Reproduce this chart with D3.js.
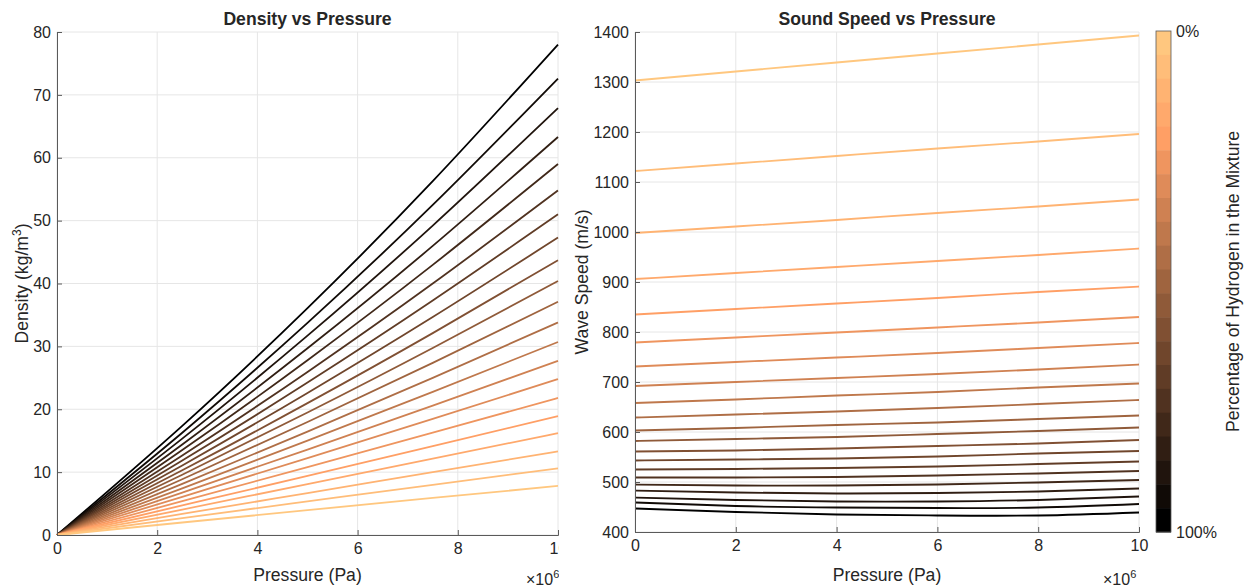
<!DOCTYPE html>
<html>
<head>
<meta charset="utf-8">
<script src="https://cdn.jsdelivr.net/npm/d3@7"></script>
<style>
  body { margin: 0; background: #fff; }
  text { font-family: "Liberation Sans", Arial, Helvetica, sans-serif; fill: #262626; }
</style>
</head>
<body>
<script>
////// DATA
// hydrogen share of each curve, same order as the curves below (light -> black)
var hydrogenPct = [0, 5, 10, 15, 20, 25, 30, 35, 40, 45, 50, 55, 60, 65, 70, 75, 80, 85, 90, 95, 100];

// left panel: pressure (x1e6 Pa) and density (kg/m3) of each curve
var pressureDensity = [0, 2.5, 5, 7.5, 10];
var densityLines = [
    [0, 1.99, 3.95, 5.89, 7.8],
    [0, 2.69, 5.34, 7.98, 10.6],
    [0, 3.35, 6.67, 9.99, 13.3],
    [0, 4.05, 8.09, 12.14, 16.2],
    [0, 4.70, 9.40, 14.14, 18.9],
    [0, 5.38, 10.79, 16.27, 21.8],
    [0, 6.08, 12.23, 18.47, 24.8],
    [0, 6.75, 13.59, 20.58, 27.7],
    [0, 7.43, 15.00, 22.76, 30.7],
    [0, 8.12, 16.44, 25.00, 33.8],
    [0, 8.86, 17.97, 27.38, 37.1],
    [0, 9.58, 19.48, 29.75, 40.4],
    [0, 10.29, 20.97, 32.11, 43.7],
    [0, 11.06, 22.60, 34.67, 47.3],
    [0, 11.84, 24.25, 37.30, 51.0],
    [0, 12.64, 25.94, 39.99, 54.8],
    [0, 13.51, 27.80, 42.96, 59.0],
    [0, 14.39, 29.69, 45.98, 63.3],
    [0, 15.33, 31.70, 49.21, 67.9],
    [0, 16.27, 33.74, 52.50, 72.6],
    [0, 17.36, 36.08, 56.28, 78.0]
];

// right panel: pressure (x1e6 Pa) and wave speed (m/s) of each curve
var pressureSpeed = [0, 2, 4, 6, 8, 10];
var speedLines = [
    [1303, 1321, 1339, 1357, 1375, 1393],
    [1122, 1137, 1152, 1167, 1181, 1196],
    [998, 1011, 1024, 1038, 1051, 1065],
    [906, 918, 930, 942, 954, 967],
    [835, 846, 857, 868, 880, 891],
    [779, 789, 799, 809, 819, 830],
    [731, 740, 749, 758, 768, 778],
    [692, 700, 708, 716, 725, 735],
    [658, 665, 673, 680, 689, 697],
    [629, 635, 641, 648, 656, 664],
    [603, 608, 614, 619, 626, 633],
    [582, 586, 590, 596, 602, 609],
    [561, 563, 567, 572, 577, 584],
    [543, 545, 547, 551, 557, 562],
    [525, 526, 528, 531, 536, 541],
    [509, 509, 510, 513, 517, 522],
    [495, 493, 493, 495, 499, 504],
    [483, 479, 477, 478, 481, 487],
    [469, 464, 461, 461, 464, 471],
    [459, 452, 449, 448, 449, 456],
    [447, 440, 435, 433, 433, 439]
];

var pressureTicks = [0, 2, 4, 6, 8, 10];
var densityTicks = [0, 10, 20, 30, 40, 50, 60, 70, 80];
var speedTicks = [400, 500, 600, 700, 800, 900, 1000, 1100, 1200, 1300, 1400];
var colorbarLabels = ["0%", "100%"];

////// SETUP SVG
var svg = d3.select("body")
    .append("svg")
    .attr("width", 1244)
    .attr("height", 588);

var axisColor = "#5a5a5a";
var tickFont = "16px";
var labelFont = "17.6px";

// matlab "copper" map, 1 = light orange, 0 = black
function copper(v) {
    return d3.rgb(255 * Math.min(1, 1.25 * v), 255 * 0.7812 * v, 255 * 0.4975 * v).toString();
}
function lineColor(pct) {
    return copper(1 - pct / 100);
}

////// DRAW ONE PANEL
function drawPanel(p) {
    var g = svg.append("g");

    var x = d3.scaleLinear().domain([0, 10]).range([p.left, p.right]);
    var y = d3.scaleLinear().domain(p.yDomain).range([p.bottom, p.top]);

    // grid
    g.selectAll(".gx").data(pressureTicks).enter().append("line")
        .attr("x1", d => x(d)).attr("x2", d => x(d))
        .attr("y1", p.top).attr("y2", p.bottom)
        .attr("stroke", "#e6e6e6").attr("stroke-width", 1);
    g.selectAll(".gy").data(p.yTicks).enter().append("line")
        .attr("x1", p.left).attr("x2", p.right)
        .attr("y1", d => y(d)).attr("y2", d => y(d))
        .attr("stroke", "#e6e6e6").attr("stroke-width", 1);

    // curves
    var line = d3.line()
        .x((d, i) => x(p.xs[i]))
        .y(d => y(d))
        .curve(d3.curveNatural);

    var order = d3.range(p.lines.length).reverse();
    g.selectAll(".curve").data(order).enter().append("path")
        .attr("d", i => line(p.lines[i]))
        .attr("fill", "none")
        .attr("stroke", i => lineColor(hydrogenPct[i]))
        .attr("stroke-width", 1.8);

    // axes, ticks pointing inward
    var ax = g.append("g")
        .attr("transform", "translate(0," + p.bottom + ")")
        .call(d3.axisBottom(x).tickValues(pressureTicks).tickFormat(d3.format("d")).tickSize(-5).tickPadding(8));
    var ay = g.append("g")
        .attr("transform", "translate(" + p.left + ",0)")
        .call(d3.axisLeft(y).tickValues(p.yTicks).tickFormat(d3.format("d")).tickSize(-5).tickPadding(6));
    [ax, ay].forEach(function(a) {
        a.select(".domain").attr("stroke", axisColor);
        a.selectAll(".tick line").attr("stroke", axisColor);
        a.selectAll("text")
            .attr("fill", "#262626")
            .style("font-size", tickFont)
            .style("font-family", '"Liberation Sans", Arial, sans-serif');
    });

    // title
    g.append("text")
        .attr("x", (p.left + p.right) / 2).attr("y", 25)
        .attr("text-anchor", "middle")
        .style("font-size", labelFont).style("font-weight", "bold")
        .text(p.title);

    // x label
    g.append("text")
        .attr("x", (p.left + p.right) / 2).attr("y", 581)
        .attr("text-anchor", "middle")
        .style("font-size", labelFont)
        .text("Pressure (Pa)");

    // exponent
    var ex = g.append("text")
        .attr("x", p.right - p.expShift).attr("y", 585)
        .style("font-size", tickFont);
    ex.append("tspan").text("\u00d710");
    ex.append("tspan").attr("dy", -7).style("font-size", "11px").text("6");

    // y label
    var yl = g.append("text")
        .attr("transform", "translate(" + p.yLabelX + "," + ((p.top + p.bottom) / 2) + ") rotate(-90)")
        .attr("text-anchor", "middle")
        .style("font-size", labelFont);
    p.yLabel(yl);

    return {x: x, y: y};
}

////// LEFT PANEL
drawPanel({
    left: 57, right: 558, top: 32, bottom: 535,
    yDomain: [0, 80], yTicks: densityTicks,
    xs: pressureDensity, lines: densityLines,
    title: "Density vs Pressure",
    yLabelX: 28, expShift: 32,
    yLabel: function(t) {
        t.append("tspan").text("Density (kg/m");
        t.append("tspan").attr("dy", -7).style("font-size", "12px").text("3");
        t.append("tspan").attr("dy", 7).text(")");
    }
});

// right subplot sits on top and hides the end of the left tick labels
svg.append("rect")
    .attr("x", 559).attr("y", 0)
    .attr("width", 1244 - 559).attr("height", 588)
    .attr("fill", "#fff");

////// RIGHT PANEL
drawPanel({
    left: 635, right: 1139, top: 32, bottom: 532,
    yDomain: [400, 1400], yTicks: speedTicks,
    xs: pressureSpeed, lines: speedLines,
    title: "Sound Speed vs Pressure",
    yLabelX: 588, expShift: 36,
    yLabel: function(t) { t.text("Wave Speed (m/s)"); }
});

////// COLORBAR
var cbTop = 31, cbBottom = 532, cbLeft = 1156, cbWidth = 15;
var cb = d3.scaleBand()
    .domain(hydrogenPct)
    .range([cbTop, cbBottom]);

svg.selectAll(".cb").data(hydrogenPct).enter().append("rect")
    .attr("x", cbLeft)
    .attr("y", d => cb(d))
    .attr("width", cbWidth)
    .attr("height", cb.bandwidth() + 0.5)
    .attr("fill", d => lineColor(d));

svg.append("rect")
    .attr("x", cbLeft).attr("y", cbTop)
    .attr("width", cbWidth).attr("height", cbBottom - cbTop)
    .attr("fill", "none").attr("stroke", axisColor).attr("stroke-width", 0.8);

svg.selectAll(".cbl").data(colorbarLabels).enter().append("text")
    .attr("x", cbLeft + cbWidth + 5)
    .attr("y", (d, i) => (i === 0 ? cbTop : cbBottom) + 6)
    .style("font-size", tickFont)
    .text(d => d);

svg.append("text")
    .attr("transform", "translate(1239," + ((cbTop + cbBottom) / 2) + ") rotate(-90)")
    .attr("text-anchor", "middle")
    .style("font-size", labelFont)
    .text("Percentage of Hydrogen in the Mixture");
</script>
</body>
</html>
